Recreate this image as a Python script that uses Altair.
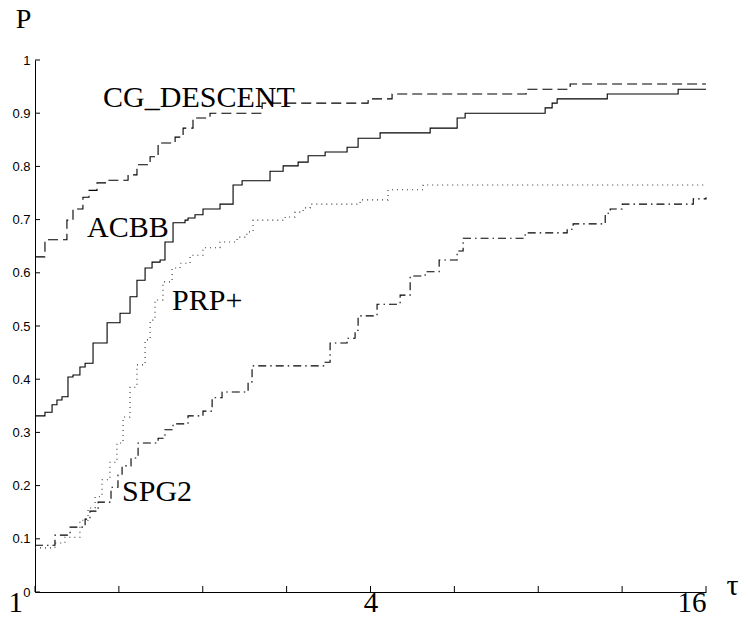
import altair as alt
import pandas as pd

# ---- data (tau, P) ----
cg_t = [1, 1.042, 1.141, 1.170, 1.219, 1.250, 1.292, 1.352, 1.469, 1.524, 1.609, 1.663,
        1.784, 1.844, 1.921, 2.061, 2.556, 3.961, 4.373, 7.609, 9.127, 16]
cg_p = [0.630, 0.662, 0.699, 0.720, 0.742, 0.755, 0.769, 0.774, 0.784, 0.803, 0.818, 0.844,
        0.855, 0.872, 0.891, 0.900, 0.919, 0.927, 0.936, 0.945, 0.955, 0.955]

acbb_t = [1, 1.042, 1.073, 1.095, 1.118, 1.146, 1.170, 1.204, 1.230, 1.271, 1.347, 1.421,
          1.481, 1.524, 1.576, 1.622, 1.677, 1.711, 1.769, 1.859, 1.882, 1.937, 2.002, 2.148,
          2.267, 2.353, 2.641, 2.788, 2.966, 3.091, 3.316, 3.631, 3.800, 4.162, 5.118, 5.722,
          5.914, 8.231, 8.472, 8.650, 10.64, 14.26, 16]
acbb_p = [0.331, 0.338, 0.352, 0.361, 0.367, 0.404, 0.408, 0.423, 0.430, 0.468, 0.506, 0.524,
          0.555, 0.586, 0.609, 0.620, 0.624, 0.658, 0.694, 0.699, 0.703, 0.709, 0.720, 0.729,
          0.765, 0.773, 0.791, 0.801, 0.808, 0.820, 0.827, 0.836, 0.853, 0.863, 0.872, 0.891,
          0.900, 0.910, 0.919, 0.927, 0.936, 0.945, 0.945]

prp_t = [1, 1.086, 1.132, 1.204, 1.245, 1.282, 1.319, 1.363, 1.403, 1.439, 1.481, 1.524,
         1.576, 1.609, 1.642, 1.697, 1.762, 1.821, 1.898, 2.002, 2.148, 2.305, 2.400, 2.462,
         2.811, 2.929, 3.028, 3.117, 3.832, 4.301, 4.972, 16]
prp_p = [0.083, 0.092, 0.103, 0.135, 0.158, 0.179, 0.211, 0.244, 0.280, 0.329, 0.385, 0.427,
         0.474, 0.511, 0.549, 0.583, 0.609, 0.618, 0.633, 0.647, 0.658, 0.667, 0.677, 0.699,
         0.705, 0.714, 0.722, 0.729, 0.737, 0.756, 0.765, 0.765]

spg_t = [1, 1.086, 1.156, 1.230, 1.255, 1.298, 1.369, 1.409, 1.433, 1.487, 1.531, 1.663,
         1.711, 1.769, 1.882, 2.002, 2.079, 2.166, 2.412, 2.452, 3.316, 3.385, 3.631, 3.753,
         3.800, 4.110, 4.521, 4.712, 5.013, 5.312, 5.722, 5.865, 7.578, 9.015, 9.241, 10.55,
         10.77, 11.32, 15.18, 16]
spg_p = [0.088, 0.107, 0.122, 0.137, 0.152, 0.169, 0.197, 0.220, 0.237, 0.252, 0.280, 0.289,
         0.305, 0.316, 0.331, 0.340, 0.365, 0.376, 0.395, 0.425, 0.432, 0.468, 0.477, 0.492,
         0.519, 0.541, 0.558, 0.594, 0.602, 0.624, 0.641, 0.665, 0.675, 0.682, 0.692, 0.712,
         0.720, 0.729, 0.739, 0.742]

series_names = ["CG_DESCENT", "ACBB", "PRP+", "SPG2"]

label_text = ["CG_DESCENT", "ACBB", "PRP+", "SPG2"]
label_t = [1.325, 1.240, 1.762, 1.433]
label_p = [0.912, 0.667, 0.530, 0.171]

x_ticks = [1, 1.4142, 2, 2.8284, 4, 5.6569, 8, 11.3137, 16]
x_labels = [1, 4, 16]
y_ticks = [0, 0.1, 0.2, 0.3, 0.4, 0.5, 0.6, 0.7, 0.8, 0.9, 1]

rows = []
for name, ts, ps in zip(series_names, [cg_t, acbb_t, prp_t, spg_t], [cg_p, acbb_p, prp_p, spg_p]):
    for t, p in zip(ts, ps):
        rows.append({"series": name, "t": t, "p": p})
df = pd.DataFrame(rows)

lab_df = pd.DataFrame({"label": label_text, "t": label_t, "p": label_p})
xt_df = pd.DataFrame({"t": x_ticks})
yt_df = pd.DataFrame({"p": y_ticks})

W, H = 671, 532

x_scale = alt.Scale(type="log", base=2, domain=[1, 16], nice=False)
y_scale = alt.Scale(domain=[0, 1], nice=False)

x_axis = alt.Axis(
    values=x_labels, ticks=False, grid=False, domain=True, domainColor="black", domainWidth=1,
    labelFont="Liberation Serif", labelFontSize=29, labelColor="black", labelPadding=-4,
    labelBaseline="top", labelFlush=True, format="d",
    labelOffset={"condition": {"test": "datum.value < 2", "value": -27}, "value": 0},
    title="τ", titleX=697, titleY=2, titleFont="Liberation Serif", titleFontSize=30,
    titleFontWeight="normal", titleBaseline="alphabetic", titleAlign="center", titleColor="black",
)
y_axis = alt.Axis(
    values=y_ticks, ticks=False, grid=False, domain=True, domainColor="black", domainWidth=1,
    labelFont="Liberation Sans", labelFontSize=13, labelColor="black", labelPadding=5, format="~g",
    title="P", titleAngle=0, titleX=-12, titleY=-33, titleFont="Liberation Serif", titleFontSize=28,
    titleFontWeight="normal", titleAlign="center", titleBaseline="alphabetic", titleColor="black",
)

lines = alt.Chart(df).mark_line(interpolate="step-after", strokeWidth=1.1).encode(
    x=alt.X("t:Q", scale=x_scale, axis=x_axis),
    y=alt.Y("p:Q", scale=y_scale, axis=y_axis),
    strokeDash=alt.StrokeDash("series:N", legend=None,
                              scale=alt.Scale(domain=series_names,
                                              range=[[10, 5], [1, 0], [1, 4], [8, 4, 1.5, 4]])),
    color=alt.Color("series:N", legend=None,
                    scale=alt.Scale(domain=series_names, range=["black", "black", "#333333", "black"])),
    detail="series:N",
)

labels = alt.Chart(lab_df).mark_text(font="Liberation Serif", fontSize=30, align="left",
                                     baseline="alphabetic", color="black").encode(
    x=alt.X("t:Q", scale=x_scale),
    y=alt.Y("p:Q", scale=y_scale),
    text="label:N",
)

xticks = alt.Chart(xt_df).mark_rule(color="black", strokeWidth=1).encode(
    x=alt.X("t:Q", scale=x_scale),
    y=alt.value(H), y2=alt.value(H - 6),
)
yticks = alt.Chart(yt_df).mark_rule(color="black", strokeWidth=1).encode(
    y=alt.Y("p:Q", scale=y_scale),
    x=alt.value(0), x2=alt.value(5),
)

chart = alt.layer(lines, labels, xticks, yticks).properties(
    width=W, height=H,
    autosize=alt.AutoSizeParams(type="none"),
    padding={"left": 27, "top": 52, "right": 34, "bottom": 22},
    background="white",
).configure_view(stroke=None)

chart.save("out.html", embed_options={"renderer": "svg", "actions": False})
